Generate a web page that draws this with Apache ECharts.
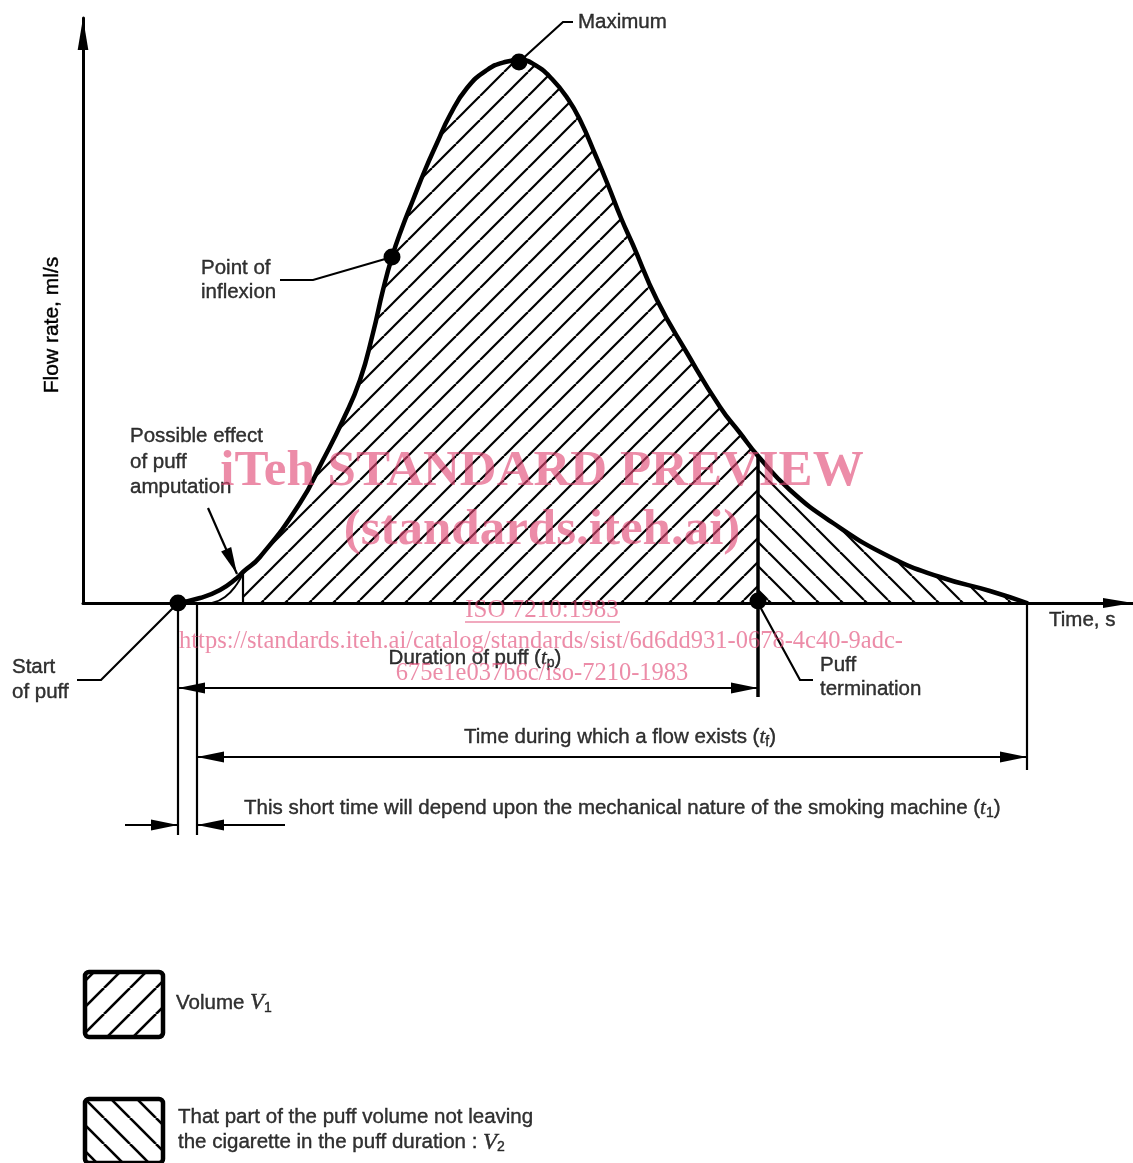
<!DOCTYPE html>
<html>
<head>
<meta charset="utf-8">
<title>Puff flow profile</title>
<script src="https://cdn.jsdelivr.net/npm/echarts@6/dist/echarts.min.js"></script>
<style>
html, body { margin: 0; padding: 0; background: #fff; }
#puff_chart { width: 1133px; height: 1163px; }
</style>
</head>
<body>
<div id="puff_chart"></div>
<script>
// time and flow in arbitrary units (the figure has no scale)
var curveTime = [9.5, 11.7, 13.7, 15.4, 16.0, 17.7, 21.7, 24.0, 26.0, 27.7,
    29.0, 30.0, 30.9, 31.9, 33.0, 34.2, 35.4, 36.7, 38.4, 40.4,
    42.2, 43.7, 45.2, 46.9, 48.5, 49.8, 51.2, 52.5, 53.8, 55.0,
    57.4, 60.4, 63.7, 65.7, 67.5, 70.7, 75.0, 80.7, 85.7, 90.7, 94.4];
var curveFlow = [0, 0.5, 1.3, 2.5, 3.1, 4.6, 10.0, 14.3, 18.3, 22.3,
    27.0, 31.3, 34.6, 37.5, 40.3, 43.3, 46.0, 48.8, 51.5, 53.3,
    54.1, 54.3, 53.8, 52.4, 50.4, 48.1, 44.9, 41.8, 38.5, 35.8,
    30.3, 25.0, 19.6, 17.0, 14.7, 11.3, 8.0, 4.6, 2.6, 1.2, 0];

// amputated start of the puff
var amputTime = [12.9, 14.2, 15.4, 16.0];
var amputFlow = [0, 0.6, 1.9, 3.0];

// start, inflexion, maximum, termination
var dotTime = [9.5, 30.9, 43.6, 67.5];
var dotFlow = [0, 34.6, 54.1, 0.2];

// key times
var tStart = 9.5, tMachine = 11.4, tAmput = 16.0, tTerm = 67.5, tEnd = 94.4;

var SANS = '"Liberation Sans", Arial, sans-serif';
var SERIF = '"Liberation Serif", "Times New Roman", serif';
var PINK = 'rgba(225, 70, 115, 0.62)';
var ARROW = 'path://M0,0M5,26L10,52L0,52Z';
var SMOOTH = 0.5;

function pairs(xs, ys) {
    return xs.map(function (x, i) { return [x, ys[i]]; });
}

// diagonal hatch as canvas pattern
function hatch(dir, size, width) {
    var c = document.createElement('canvas');
    c.width = size; c.height = size;
    var ctx = c.getContext('2d');
    ctx.strokeStyle = '#000';
    ctx.lineWidth = width;
    for (var k = -1; k <= 1; k++) {
        ctx.beginPath();
        if (dir === '/') {
            ctx.moveTo(k * size, size); ctx.lineTo(k * size + size, 0);
        } else {
            ctx.moveTo(k * size, 0); ctx.lineTo(k * size + size, size);
        }
        ctx.stroke();
    }
    return { image: c, repeat: 'repeat' };
}

var curve = pairs(curveTime, curveFlow);
var iAmput = curveTime.indexOf(tAmput);
var iTerm = curveTime.indexOf(tTerm);
var v1Data = curve.slice(iAmput, iTerm + 1);
var v2Data = curve.slice(iTerm);
var termFlow = curveFlow[iTerm];

var tpLevel = -8.5, tfLevel = -15.4, t1Level = -22.2;

var notes = [
    { at: [49.5, 58.1], text: 'Maximum' },
    { at: [11.8, 32.3], text: 'Point of\ninflexion', lh: 24 },
    { at: [4.7, 14.1], text: 'Possible effect\nof puff\namputation', lh: 25.5 },
    { at: [-7.1, -7.7], text: 'Start\nof puff', lh: 25 },
    { at: [73.7, -7.4], text: 'Puff\ntermination', lh: 24 },
    { at: [39.2, -5.5], text: 'Duration of puff ({i|t}{s|p})', align: 'center' },
    { at: [53.7, -13.4], text: 'Time during which a flow exists ({i|t}{s|f})', align: 'center' },
    { at: [16.1, -20.5], text: 'This short time will depend upon the mechanical nature of the smoking machine ({i|t}{s|1})' },
    { at: [96.6, -1.7], text: 'Time, s' },
    { at: [9.3, -40.0], text: 'Volume {v|V}{s|1}' },
    { at: [9.5, -52.7], text: 'That part of the puff volume not leaving\nthe cigarette in the puff duration : {v|V}{s|2}', lh: 25 }
];

// legend swatches: [left, top, right, bottom] in axis units
var keyBoxes = [
    { box: [0.2, -36.9, 8.0, -43.4], fill: hatch('/', 26, 2.6) },
    { box: [0.2, -49.6, 8.0, -56.0], fill: hatch('\\', 26, 2.6) }
];

var myChart = echarts.init(document.getElementById('puff_chart'));

var option = {
    animation: false,
    backgroundColor: '#fff',
    textStyle: { fontFamily: SANS },
    grid: { left: 83, right: 0, top: 18, bottom: 560 },
    xAxis: {
        type: 'value', min: 0, max: 105,
        axisLine: {
            onZero: false,
            lineStyle: { color: '#000', width: 3 },
            symbol: ['none', 'path://M5,0L10,30L0,30Z'],
            symbolSize: [11, 30],
            symbolOffset: [0, -15]
        },
        axisTick: { show: false }, axisLabel: { show: false }, splitLine: { show: false }
    },
    yAxis: {
        type: 'value', min: 0, max: 58.5,
        name: 'Flow rate, ml/s',
        nameLocation: 'middle',
        nameRotate: 90,
        nameGap: 20,
        nameTextStyle: {
            color: '#000', fontSize: 21, fontFamily: SANS, padding: [0, 29, 0, 0],
            textBorderColor: '#000', textBorderWidth: 0.4
        },
        axisLine: {
            lineStyle: { color: '#000', width: 3 },
            symbol: ['none', 'path://M5,0L10,30L0,30Z'],
            symbolSize: [12, 32],
            symbolOffset: [0, -16]
        },
        axisTick: { show: false }, axisLabel: { show: false }, splitLine: { show: false }
    },
    series: [
        {
            name: 'V1', type: 'line', data: v1Data, smooth: SMOOTH, showSymbol: false, clip: false,
            lineStyle: { width: 0, opacity: 0 },
            areaStyle: { color: hatch('/', 24, 2.2), opacity: 1 },
            z: 1
        },
        {
            name: 'V2', type: 'line', data: v2Data, smooth: SMOOTH, showSymbol: false, clip: false,
            lineStyle: { width: 0, opacity: 0 },
            areaStyle: { color: hatch('\\', 24, 2.2), opacity: 1 },
            z: 1
        },
        {
            name: 'amputation', type: 'line', data: pairs(amputTime, amputFlow), smooth: SMOOTH,
            showSymbol: false, clip: false,
            lineStyle: { color: '#000', width: 2 }, z: 3
        },
        {
            name: 'leaders', type: 'lines', coordinateSystem: 'cartesian2d', polyline: true, clip: false,
            lineStyle: { color: '#000', width: 2.2, opacity: 1 },
            data: [
                { coords: [[tTerm, termFlow], [tTerm, -9.4]], lineStyle: { width: 3.5 } },
                { coords: [[tAmput, 3.1], [tAmput, 0]] },
                { coords: [[tStart, 0], [tStart, -23.2]] },
                { coords: [[tMachine, 0], [tMachine, -23.2]] },
                { coords: [[tEnd, 0], [tEnd, -16.7]] },
                { coords: [[43.6, 54.1], [48.0, 58.1], [49.0, 58.1]] },
                { coords: [[30.9, 34.6], [23.0, 32.3], [19.7, 32.3]] },
                { coords: [[tStart, 0], [1.8, -7.7], [-0.6, -7.7]] },
                { coords: [[tTerm, 0], [71.7, -7.7], [73.0, -7.7]] }
            ],
            z: 3
        },
        {
            name: 'dimensions', type: 'lines', coordinateSystem: 'cartesian2d', clip: false,
            lineStyle: { color: '#000', width: 2.2, opacity: 1 },
            symbolSize: [[11, 54], [11, 54]],
            data: [
                { coords: [[tStart, tpLevel], [tTerm, tpLevel]], symbol: [ARROW, ARROW] },
                { coords: [[tMachine, tfLevel], [tEnd, tfLevel]], symbol: [ARROW, ARROW] },
                { coords: [[4.2, t1Level], [tStart, t1Level]], symbol: ['none', ARROW] },
                { coords: [[20.2, t1Level], [tMachine, t1Level]], symbol: ['none', ARROW] },
                { coords: [[12.5, 9.5], [15.4, 2.9]], symbol: ['none', ARROW] }
            ],
            z: 3
        },
        {
            name: 'flow', type: 'line', data: curve, smooth: SMOOTH, showSymbol: false, clip: false,
            lineStyle: { color: '#000', width: 4.5, cap: 'round', join: 'round' },
            z: 4
        },
        {
            name: 'points', type: 'scatter', data: pairs(dotTime, dotFlow), symbolSize: 17,
            itemStyle: { color: '#000', opacity: 1 }, clip: false, z: 5
        },
        {
            name: 'key', type: 'custom', coordinateSystem: 'cartesian2d', clip: false,
            data: keyBoxes.map(function (k, i) { return [k.box[0], k.box[1], k.box[2], k.box[3], i]; }),
            renderItem: function (params, api) {
                var p0 = api.coord([api.value(0), api.value(1)]);
                var p1 = api.coord([api.value(2), api.value(3)]);
                return {
                    type: 'rect',
                    shape: { x: p0[0], y: p0[1], width: p1[0] - p0[0], height: p1[1] - p0[1], r: 4 },
                    style: { fill: keyBoxes[api.value(4)].fill, stroke: '#000', lineWidth: 4.5 }
                };
            },
            z: 5
        },
        {
            name: 'notes', type: 'scatter', symbolSize: 1, clip: false, silent: true,
            itemStyle: { color: 'rgba(0,0,0,0)' },
            data: notes.map(function (n) {
                return {
                    value: n.at,
                    label: { formatter: n.text, align: n.align || 'left', lineHeight: n.lh || 24 }
                };
            }),
            label: {
                show: true, position: 'inside', verticalAlign: 'middle',
                color: '#000', fontSize: 20.5, fontFamily: SANS,
                textBorderColor: '#000', textBorderWidth: 0.4,
                rich: {
                    i: { fontFamily: SERIF, fontStyle: 'italic', fontSize: 21 },
                    v: { fontFamily: SERIF, fontStyle: 'italic', fontSize: 23 },
                    s: { fontSize: 14, padding: [10, 0, 0, 0] }
                }
            },
            z: 6
        }
    ],
    graphic: [
        { type: 'text', x: 542, y: 472, z: 100, silent: true,
          style: { text: 'iTeh STANDARD PREVIEW', font: 'bold 51px ' + SERIF, fill: PINK, align: 'center', verticalAlign: 'middle' } },
        { type: 'text', x: 542, y: 531, z: 100, silent: true,
          style: { text: '(standards.iteh.ai)', font: 'bold 51px ' + SERIF, fill: PINK, align: 'center', verticalAlign: 'middle' } },
        { type: 'text', x: 542, y: 610, z: 100, silent: true,
          style: { text: 'ISO 7210:1983', font: '25px ' + SERIF, fill: PINK, align: 'center', verticalAlign: 'middle' } },
        { type: 'line', z: 100, silent: true,
          shape: { x1: 465, y1: 622, x2: 620, y2: 622 }, style: { stroke: PINK, lineWidth: 1.5 } },
        { type: 'text', x: 541, y: 642, z: 100, silent: true,
          style: { text: 'https://standards.iteh.ai/catalog/standards/sist/6d6dd931-0678-4c40-9adc-', font: '24.5px ' + SERIF, fill: PINK, align: 'center', verticalAlign: 'middle' } },
        { type: 'text', x: 542, y: 674, z: 100, silent: true,
          style: { text: '675e1e037b6c/iso-7210-1983', font: '24.5px ' + SERIF, fill: PINK, align: 'center', verticalAlign: 'middle' } }
    ]
};

myChart.setOption(option);

window.onresize = function () {
    myChart.resize();
};
</script>
</body>
</html>
